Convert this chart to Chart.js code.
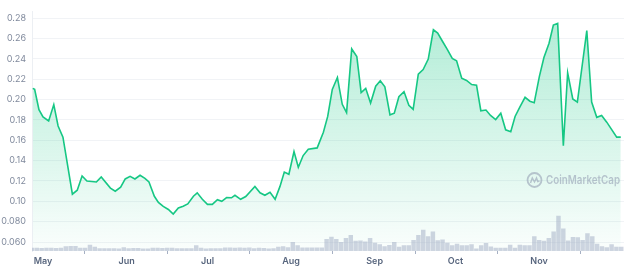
<!DOCTYPE html>
<html>
<head>
<meta charset="utf-8">
<script src="https://cdn.jsdelivr.net/npm/chart.js@4.4.0/dist/chart.umd.min.js"></script>
<style>
  html,body{margin:0;padding:0;background:#fff;}
  #wrap{width:624px;height:269px;}
</style>
</head>
<body>
<div id="wrap"><canvas id="priceChart" width="624" height="269"></canvas></div>
<script>
// days counted from May 1 (day 0)
const monthDays  = [0, 31, 61, 92, 123, 153, 184];
const monthNames = ['May','Jun','Jul','Aug','Sep','Oct','Nov'];
const priceTicks = [0.06,0.08,0.10,0.12,0.14,0.16,0.18,0.20,0.22,0.24,0.26,0.28];

// price line
const priceDays = [-3.8,-3.1,-1.5,0,2.1,4,5.6,7.4,10.9,12.7,14.5,16.3,19.8,21.6,25,26.8,28.8,30.5,32.3,34.1,
  36,37.8,39.3,41.3,42.8,44.6,46.5,48.3,50.2,52,53.7,55.8,57.2,59.1,61,62.8,64.7,66.3,68.1,69.9,
  71.2,73.3,75.2,78.6,80.5,82.3,84.2,86.1,87.9,89.5,91.2,93.1,94.7,96.5,98.4,101.7,104,105.6,107.3,109.2,
  111,112.6,114.5,116.4,118,119.7,121.5,123.4,125.1,126.8,128.7,130.3,132,133.9,135.7,137.3,139.2,141,142.9,144.8,
  146.4,148.1,150,151.8,153.4,155.3,157.1,159,160.8,162.4,164.3,166,167.9,169.8,171.6,173.5,175.1,176.9,178.8,180.6,
  182.2,184.1,185.8,187.7,189.3,190.9,193,194.6,196.5,198.2,201.7,203.5,205.4,207.2,209.1,212.8,214.3];
const prices = [0.211,0.210,0.190,0.183,0.179,0.195,0.174,0.163,0.107,0.111,0.125,0.120,0.119,0.124,0.113,0.110,0.114,0.122,0.1246,0.122,
  0.1256,0.1225,0.119,0.105,0.099,0.095,0.092,0.0875,0.0935,0.0953,0.0975,0.105,0.1084,0.102,0.097,0.097,0.1016,0.100,0.1037,0.1035,
  0.106,0.102,0.1047,0.1147,0.1084,0.106,0.109,0.102,0.1147,0.1288,0.1266,0.149,0.1335,0.145,0.1513,0.1525,0.1678,0.1834,0.210,0.2216,
  0.1953,0.1872,0.2497,0.2422,0.2069,0.211,0.1966,0.2131,0.2184,0.2125,0.185,0.1866,0.2028,0.2078,0.1944,0.1903,0.225,0.2294,0.2397,0.2685,
  0.2653,0.2575,0.249,0.2403,0.2381,0.2209,0.2188,0.2147,0.2141,0.189,0.1897,0.1844,0.1803,0.1866,0.1703,0.1684,0.1834,0.1928,0.2022,0.1984,
  0.1969,0.2225,0.2413,0.2553,0.2731,0.2747,0.1547,0.2263,0.2006,0.1975,0.2678,0.1975,0.1825,0.1844,0.1778,0.1631,0.1631];

// volume bars (relative units), one bar every ~1.79 days from day -4.08
const volStartDay = -4.08, volStepDays = 1.7915;
const volumes = [3,3,2.7,3,3,2.7,3,4.5,5,5,3,3,6.3,4,2.5,2.5,2.5,2.5,2.3,3.7,
  2.5,2.7,2.7,2.3,2.3,3,3,2.7,3,3,2.5,2.5,2.5,2.5,5.7,3,2.3,2.5,2.5,2.5,
  3.3,3.3,3,3.3,3,3.3,2.5,3,2.7,2.3,2.5,4,4.7,3.7,9,5.7,3.3,3.3,3.3,3.3,3.3,
  12.3,14.7,12.3,9,13.3,16.3,10.3,10.7,9.7,13.3,8.3,6.7,4.7,6,9,4,5.7,5.7,11.3,16.3,
  22,15,20,11,11.7,8.3,5.7,7.3,5.7,5.7,6.7,2.3,5.7,8,4.3,3,3,3,6.3,3,
  6.3,5.7,5.7,15,11.3,10.3,13.3,20,36.7,23.3,10.7,14.3,14,11.3,18.3,15,7.3,4.7,3.7,6.7,4,4];

const pricePoints = priceDays.map((d,i)=>({x:d, y:prices[i]}));
const volPoints = volumes.map((v,i)=>({x: volStartDay + i*volStepDays, y:v}));

const green = '#16c784';

const watermark = {
  id:'watermark',
  afterDatasetsDraw(chart){
    const c = chart.ctx;
    c.save();
    c.strokeStyle = 'rgba(150,160,180,0.6)';
    c.fillStyle = 'rgba(150,160,180,0.6)';
    c.lineWidth = 1.8;
    const cx = 534.5, cy = 180;
    c.beginPath(); c.arc(cx, cy, 7, 0, Math.PI*2); c.stroke();
    c.lineWidth = 1.5;
    c.beginPath();
    c.moveTo(cx-4, cy+3); c.lineTo(cx-2.2, cy-2); c.lineTo(cx, cy+2);
    c.lineTo(cx+2, cy-2); c.lineTo(cx+3.2, cy+1.5); c.lineTo(cx+5, cy+1);
    c.stroke();
    c.font = '600 12px Inter, "Noto Sans", sans-serif';
    c.textBaseline = 'middle';
    c.fillText('CoinMarketCap', 546, cy+0.5, 74);
    c.restore();
  }
};

new Chart(document.getElementById('priceChart'), {
  type:'line',
  data:{
    datasets:[
      {
        type:'line', data: pricePoints, yAxisID:'y', order:1,
        borderColor: green, borderWidth:1.6, pointRadius:0, tension:0, fill:'start',
        backgroundColor: (ctx)=>{
          const {chart} = ctx; const area = chart.chartArea;
          if(!area) return 'rgba(22,199,132,0.15)';
          const g = chart.ctx.createLinearGradient(0, area.top, 0, area.bottom);
          g.addColorStop(0, 'rgba(22,199,132,0.34)');
          g.addColorStop(1, 'rgba(22,199,132,0.02)');
          return g;
        }
      },
      {
        type:'bar', data: volPoints, yAxisID:'v', order:0,
        backgroundColor:'rgba(160,172,196,0.5)', barThickness:3.8
      }
    ]
  },
  options:{
    responsive:false, animation:false, devicePixelRatio:1,
    layout:{padding:0},
    plugins:{legend:{display:false}, tooltip:{enabled:false}},
    scales:{
      x:{
        type:'linear', min:-4.08, max:215.5, offset:false,
        afterBuildTicks: s=>{ s.ticks = monthDays.map(d=>({value:d})); },
        afterFit: s=>{ s.height = 18; },
        ticks:{
          autoSkip:false, maxRotation:0, padding:2, color:'#58667e',
          font:{family:'Inter', size:9, weight:'600'},
          callback: v=> monthNames[monthDays.indexOf(v)]
        },
        grid:{drawOnChartArea:false, drawTicks:true, tickLength:3, color:'#a6b0c3'},
        border:{display:false}
      },
      y:{
        min:0.05125, max:0.28656,
        afterBuildTicks: s=>{ s.ticks = priceTicks.map(v=>({value:v})); },
        afterFit: s=>{ s.width = 32; },
        ticks:{
          padding:6, color:'#808a9d',
          font:{family:'Inter', size:9},
          callback: v=> v < 0.1 ? v.toFixed(3) : v.toFixed(2)
        },
        grid:{color:'#f1f3f6', drawTicks:false},
        border:{display:true, color:'#eceff3'}
      },
      v:{display:false, min:0, max:251}
    }
  },
  plugins:[watermark]
});
</script>
</body>
</html>
